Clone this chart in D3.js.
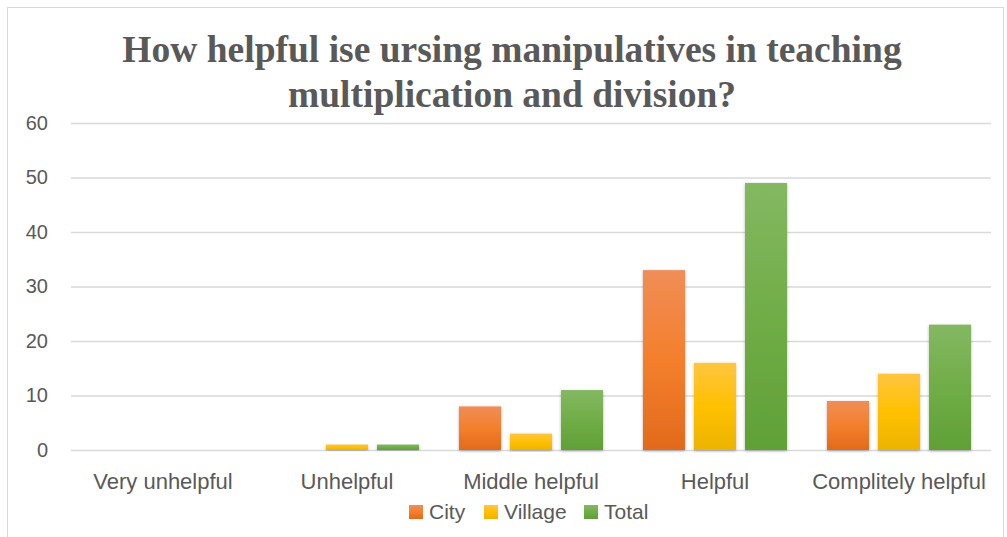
<!DOCTYPE html>
<html>
<head>
<meta charset="utf-8">
<script src="https://cdn.jsdelivr.net/npm/d3@7"></script>
<style>
  html, body { margin: 0; padding: 0; background: #fff; }
  svg { display: block; }
</style>
</head>
<body>
<svg id="chart" width="1007" height="537"></svg>
<script>
// Survey answers grouped by how helpful manipulatives are judged
const categories = ["Very unhelpful", "Unhelpful", "Middle helpful", "Helpful", "Complitely helpful"];
const seriesNames = ["City", "Village", "Total"];
const cityValues = [0, 0, 8, 33, 9];
const villageValues = [0, 1, 3, 16, 14];
const totalValues = [0, 1, 11, 49, 23];
const yTicks = [0, 10, 20, 30, 40, 50, 60];
const titleLines = ["How helpful ise ursing manipulatives in teaching", "multiplication and division?"];

const seriesValues = [cityValues, villageValues, totalValues];
const palette = {
  City:    { top: "#f08d57", mid: "#f47f2c", bot: "#e26a1c" },
  Village: { top: "#ffc53f", mid: "#ffc000", bot: "#ecb400" },
  Total:   { top: "#84b862", mid: "#70ad47", bot: "#60a036" }
};

const svg = d3.select("#chart");
const W = 1007, H = 537;
const margin = { left: 71, right: 16, top: 123, bottom: 87 };

// chart area frame
svg.append("rect")
  .attr("x", 7.5).attr("y", 7.5)
  .attr("width", 996).attr("height", 540)
  .attr("fill", "#fff").attr("stroke", "#d9d9d9").attr("stroke-width", 1);

const defs = svg.append("defs");
seriesNames.forEach(name => {
  const g = defs.append("linearGradient")
    .attr("id", "grad-" + name)
    .attr("x1", 0).attr("y1", 0).attr("x2", 0).attr("y2", 1);
  g.append("stop").attr("offset", "0%").attr("stop-color", palette[name].top);
  g.append("stop").attr("offset", "50%").attr("stop-color", palette[name].mid);
  g.append("stop").attr("offset", "100%").attr("stop-color", palette[name].bot);
});
const shadow = defs.append("filter").attr("id", "barShadow")
  .attr("x", "-20%").attr("y", "-5%").attr("width", "140%").attr("height", "115%");
shadow.append("feDropShadow")
  .attr("dx", 0).attr("dy", 1).attr("stdDeviation", 1.6)
  .attr("flood-color", "#000").attr("flood-opacity", 0.3);

const x0 = d3.scaleBand()
  .domain(categories)
  .range([margin.left, W - margin.right])
  .padding(0);
const x1 = d3.scaleBand()
  .domain(seriesNames)
  .range([20, x0.bandwidth() - 20])
  .paddingInner(0.176);
const y = d3.scaleLinear()
  .domain([0, 60])
  .range([H - margin.bottom, margin.top]);

// Title
const title = svg.append("text")
  .attr("text-anchor", "middle")
  .attr("font-family", "'Liberation Serif', 'Times New Roman', serif")
  .attr("font-weight", "bold")
  .attr("font-size", 37.5)
  .attr("fill", "#595959");
titleLines.forEach((line, i) => {
  title.append("tspan")
    .attr("x", 512)
    .attr("y", 62 + i * 45)
    .text(line);
});

// Gridlines and y-axis labels
const yAxis = d3.axisLeft(y)
  .tickValues(yTicks)
  .tickSize(-(W - margin.left - margin.right))
  .tickPadding(23)
  .tickFormat(d3.format("d"));
const yg = svg.append("g")
  .attr("transform", `translate(${margin.left},0)`)
  .call(yAxis);
yg.select(".domain").remove();
yg.selectAll(".tick line").attr("stroke", "#d9d9d9").attr("stroke-width", 1.3);
yg.selectAll(".tick text")
  .attr("fill", "#595959")
  .attr("font-family", "'Liberation Sans', Arial, sans-serif")
  .attr("font-size", 20);

// Bars
const groups = svg.append("g").selectAll("g")
  .data(categories)
  .join("g")
  .attr("transform", d => `translate(${x0(d)},0)`);

groups.selectAll("rect")
  .data((d, i) => seriesNames.map((s, k) => ({ series: s, value: seriesValues[k][i] })))
  .join("rect")
  .filter(d => d.value > 0)
  .attr("x", d => x1(d.series))
  .attr("y", d => y(d.value))
  .attr("width", x1.bandwidth())
  .attr("height", d => y(0) - y(d.value))
  .attr("fill", d => `url(#grad-${d.series})`)
  .attr("filter", "url(#barShadow)");

// Category labels
const xAxis = d3.axisBottom(x0).tickSize(0).tickPadding(23);
const xg = svg.append("g")
  .attr("transform", `translate(0,${y(0)})`)
  .call(xAxis);
xg.select(".domain").remove();
xg.selectAll(".tick text")
  .attr("fill", "#595959")
  .attr("font-family", "'Liberation Sans', Arial, sans-serif")
  .attr("font-size", 22);

// Legend
const legendItems = [
  { name: "City", x: 409 },
  { name: "Village", x: 484 },
  { name: "Total", x: 584 }
];
const legend = svg.append("g");
legendItems.forEach(item => {
  legend.append("rect")
    .attr("x", item.x).attr("y", 505)
    .attr("width", 14).attr("height", 14)
    .attr("fill", `url(#grad-${item.name})`);
  legend.append("text")
    .attr("x", item.x + 20).attr("y", 518.5)
    .attr("fill", "#595959")
    .attr("font-family", "'Liberation Sans', Arial, sans-serif")
    .attr("font-size", 21)
    .text(item.name);
});
</script>
</body>
</html>
